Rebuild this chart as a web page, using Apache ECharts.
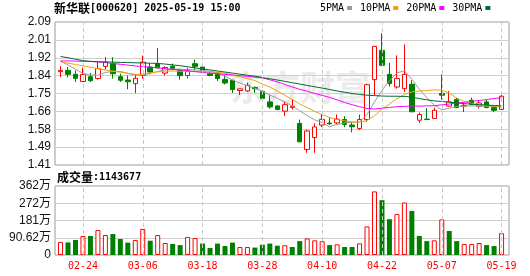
<!DOCTYPE html>
<html><head><meta charset="utf-8">
<script src="https://cdn.jsdelivr.net/npm/echarts@6/dist/echarts.min.js"></script>
<style>html,body{margin:0;padding:0;background:#fff}#c{width:530px;height:276px}</style>
</head><body><div id="c"></div>
<script>
const dates = ['02-19','02-20','02-21','02-24','02-25','02-26','02-27','02-28','03-03','03-04','03-05','03-06','03-07','03-10','03-11','03-12','03-13','03-14','03-17','03-18','03-19','03-20','03-21','03-24','03-25','03-26','03-27','03-28','03-31','04-01','04-02','04-03','04-07','04-08','04-09','04-10','04-11','04-14','04-15','04-16','04-17','04-18','04-21','04-22','04-23','04-24','04-25','04-28','04-29','04-30','05-06','05-07','05-08','05-09','05-12','05-13','05-14','05-15','05-16','05-19'];
const opens  = [1.854,1.860,1.841,1.807,1.830,1.821,1.879,1.892,1.830,1.814,1.797,1.836,1.876,1.892,1.847,1.880,1.860,1.836,1.892,1.876,1.844,1.841,1.817,1.813,1.764,1.762,1.778,1.760,1.710,1.691,1.666,1.683,1.608,1.484,1.541,1.600,1.610,1.610,1.626,1.600,1.584,1.626,1.816,1.955,1.841,1.781,1.773,1.794,1.623,1.628,1.631,1.750,1.690,1.721,1.690,1.718,1.690,1.710,1.683,1.674];
const closes = [1.860,1.841,1.822,1.840,1.811,1.868,1.899,1.844,1.813,1.806,1.822,1.899,1.852,1.872,1.874,1.868,1.835,1.857,1.879,1.852,1.836,1.821,1.800,1.769,1.772,1.789,1.773,1.726,1.686,1.674,1.697,1.689,1.520,1.572,1.591,1.627,1.606,1.628,1.603,1.592,1.626,1.792,1.974,1.884,1.797,1.821,1.841,1.663,1.650,1.626,1.670,1.742,1.710,1.683,1.694,1.699,1.705,1.683,1.670,1.737];
const lows   = [1.828,1.826,1.805,1.807,1.805,1.816,1.863,1.821,1.805,1.770,1.752,1.820,1.841,1.870,1.835,1.860,1.816,1.822,1.860,1.845,1.832,1.809,1.793,1.753,1.743,1.757,1.753,1.720,1.678,1.670,1.643,1.674,1.520,1.468,1.468,1.590,1.600,1.605,1.590,1.565,1.576,1.615,1.742,1.880,1.784,1.773,1.757,1.663,1.610,1.626,1.629,1.720,1.688,1.680,1.662,1.694,1.679,1.680,1.662,1.674];
const highs  = [1.880,1.876,1.860,1.873,1.847,1.899,1.923,1.923,1.844,1.836,1.841,1.930,1.895,1.966,1.879,1.892,1.868,1.872,1.911,1.876,1.852,1.852,1.836,1.816,1.772,1.802,1.784,1.765,1.742,1.694,1.710,1.721,1.626,1.578,1.608,1.650,1.636,1.650,1.642,1.610,1.650,1.797,1.974,2.037,1.895,1.931,1.983,1.813,1.660,1.681,1.683,1.841,1.762,1.730,1.702,1.730,1.718,1.720,1.690,1.760];
// volume in 万 (10k shares)
const volumes = [68,66,79,100,100,131,105,110,84,65,79,137,75,105,63,58,52,95,89,60,37,60,47,65,42,42,39,54,60,49,51,42,73,87,77,72,52,56,42,42,61,150,334,288,188,215,276,231,100,73,77,187,126,73,58,58,63,52,47,114.37];
const ma5  = [1.905,1.885,1.866,1.845,1.838,1.837,1.850,1.855,1.855,1.846,1.837,1.838,1.845,1.855,1.863,1.866,1.865,1.864,1.862,1.860,1.855,1.848,1.832,1.814,1.800,1.787,1.775,1.760,1.743,1.727,1.710,1.690,1.668,1.645,1.625,1.612,1.592,1.603,1.610,1.613,1.615,1.650,1.710,1.765,1.810,1.848,1.858,1.818,1.770,1.730,1.695,1.672,1.680,1.688,1.690,1.691,1.690,1.690,1.688,1.685];
const ma10 = [1.900,1.894,1.888,1.881,1.875,1.868,1.862,1.857,1.851,1.846,1.841,1.842,1.848,1.853,1.856,1.857,1.856,1.855,1.855,1.855,1.853,1.851,1.846,1.838,1.829,1.820,1.812,1.795,1.781,1.762,1.742,1.722,1.700,1.683,1.665,1.650,1.636,1.626,1.620,1.615,1.612,1.622,1.645,1.675,1.700,1.725,1.745,1.758,1.762,1.764,1.767,1.766,1.752,1.728,1.712,1.703,1.697,1.692,1.690,1.690];
const ma20 = [1.905,1.905,1.904,1.903,1.902,1.900,1.897,1.893,1.889,1.885,1.881,1.878,1.875,1.872,1.868,1.865,1.862,1.858,1.854,1.850,1.847,1.844,1.841,1.838,1.835,1.831,1.828,1.824,1.815,1.805,1.793,1.781,1.770,1.761,1.750,1.741,1.731,1.720,1.707,1.697,1.687,1.679,1.676,1.680,1.684,1.687,1.689,1.690,1.690,1.691,1.692,1.696,1.700,1.704,1.708,1.712,1.717,1.721,1.726,1.730];
const ma30 = [1.926,1.920,1.913,1.906,1.903,1.901,1.900,1.899,1.898,1.897,1.896,1.895,1.894,1.893,1.890,1.886,1.882,1.877,1.872,1.867,1.862,1.857,1.852,1.847,1.842,1.837,1.832,1.826,1.820,1.814,1.808,1.801,1.795,1.788,1.782,1.776,1.769,1.762,1.756,1.750,1.745,1.742,1.740,1.738,1.737,1.737,1.736,1.733,1.726,1.720,1.715,1.712,1.709,1.705,1.702,1.699,1.697,1.695,1.693,1.691];
const priceTicks = ['1.41','1.49','1.58','1.66','1.75','1.84','1.92','2.01','2.09'];
const volTicks = ['0','90.62万','181万','272万','362万'];
const labelDates = ['02-24','03-06','03-18','03-28','04-10','04-22','05-07','05-19'];
const priceMin = 1.41, priceMax = 2.09, volMax = 362.48;
const stockName = '新华联', stockInfo = '[000620] 2025-05-19 15:00';
const volName = '成交量', volInfo = ':1143677';

const RED = '#ff0000', GREEN = '#008000';
const mono = "'DejaVu Sans Mono'";
const cjk = "'Noto Sans CJK SC'";
const numFont = "'Liberation Sans','Noto Sans CJK SC'";

const chart = echarts.init(document.getElementById('c'), null, {renderer: 'canvas'});

const frameY = (ticks) => ({
  type: 'value', min: 0, max: ticks.length - 1, interval: 1,
  axisLine: {show: false}, axisTick: {show: false},
  axisLabel: {formatter: v => ticks[v], color: '#111', fontSize: 12, fontFamily: numFont, margin: 4},
  splitLine: {show: true, lineStyle: {color: '#cfcfcf', width: 1}}
});
const dataX = (gi, showLabel) => ({
  gridIndex: gi, type: 'category', data: dates, boundaryGap: true,
  axisLine: {show: false}, axisTick: {show: false}, splitLine: {show: false},
  axisLabel: showLabel ? {show: true, interval: (i, v) => labelDates.includes(v), color: RED, fontSize: 10, fontFamily: mono, margin: 6, hideOverlap: false} : {show: false}
});
const dashLines = (xi, yi) => ({
  type: 'line', xAxisIndex: xi, yAxisIndex: yi, data: [], z: 1, silent: true,
  markLine: {silent: true, symbol: ['none', 'none'], animation: false, label: {show: false},
    lineStyle: {type: [4, 3], color: '#c8c8c8', width: 1},
    data: labelDates.map(d => ({xAxis: d}))}
});
const maLine = (name, data, color) => ({
  name, type: 'line', xAxisIndex: 1, yAxisIndex: 1, data, symbol: 'none', smooth: false, z: 4,
  lineStyle: {color, width: 1}, itemStyle: {color}
});

const candleData = opens.map((o, i) => [o, closes[i], lows[i], highs[i]]);
const volData = volumes.map((v, i) => {
  const up = i === 0 ? closes[0] >= opens[0] : closes[i] >= closes[i - 1];
  return {value: v, itemStyle: up ? {color: '#ffffff', borderColor: RED, borderWidth: 1} : {color: GREEN, borderColor: GREEN, borderWidth: 0}};
});

chart.setOption({
  animation: false,
  backgroundColor: '#fff',
  title: [
    {text: '{a|' + stockName + '}{b|' + stockInfo + '}', left: 54, top: 2, padding: 0,
     textStyle: {rich: {a: {fontSize: 12, fontFamily: cjk, color: '#000'}, b: {fontSize: 10, fontFamily: mono, color: '#000'}}}},
    {text: '{a|' + volName + '}{b|' + volInfo + '}', left: 57, top: 171, padding: 0,
     textStyle: {rich: {a: {fontSize: 12, fontFamily: cjk, color: '#000'}, b: {fontSize: 10, fontFamily: mono, color: '#000'}}}}
  ],
  legend: {
    data: ['5PMA', '10PMA', '20PMA', '30PMA'], left: 320, top: 3, padding: 0,
    icon: 'rect', itemWidth: 5, itemHeight: 4, itemGap: 8, align: 'right',
    textStyle: {fontFamily: mono, fontSize: 10, color: '#000', padding: [0, -2, 0, 0]}
  },
  graphic: [
    {type: 'text', left: 230, top: 70, z: 0, silent: true,
     style: {text: '东方财富', font: 'bold 35px ' + cjk, fill: '#ebebeb'}}
  ],
  grid: [
    {left: 55, right: 21, top: 22, height: 143, show: true, borderColor: '#999', borderWidth: 1, backgroundColor: 'transparent'},
    {left: 56.8, right: 24.7, top: 22, height: 143},
    {left: 55, right: 21, top: 186, height: 69, show: true, borderColor: '#999', borderWidth: 1, backgroundColor: 'transparent'},
    {left: 56.8, right: 24.7, top: 186, height: 69}
  ],
  xAxis: [
    {gridIndex: 0, type: 'value', min: 0, max: 1, show: false},
    dataX(1, false),
    {gridIndex: 2, type: 'value', min: 0, max: 1, show: false},
    dataX(3, true)
  ],
  yAxis: [
    Object.assign({gridIndex: 0}, frameY(priceTicks)),
    {gridIndex: 1, type: 'value', min: priceMin, max: priceMax, show: false, splitLine: {show: false}},
    Object.assign({gridIndex: 2}, frameY(volTicks)),
    {gridIndex: 3, type: 'value', min: 0, max: volMax, show: false, splitLine: {show: false}}
  ],
  series: [
    dashLines(1, 1),
    dashLines(3, 3),
    {type: 'candlestick', xAxisIndex: 1, yAxisIndex: 1, data: candleData, barWidth: 5, z: 3,
     itemStyle: {color: '#ffffff', color0: GREEN, borderColor: RED, borderColor0: GREEN, borderWidth: 1}},
    maLine('5PMA', ma5, '#9a9a9a'),
    maLine('10PMA', ma10, '#f0a30a'),
    maLine('20PMA', ma20, '#ff00ff'),
    maLine('30PMA', ma30, '#006a30'),
    {type: 'bar', xAxisIndex: 3, yAxisIndex: 3, data: volData, barWidth: 5, z: 3}
  ]
});
</script>
</body></html>
